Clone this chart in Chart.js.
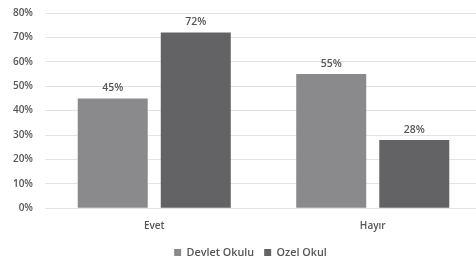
<!DOCTYPE html>
<html>
<head>
<meta charset="utf-8">
<script src="https://cdn.jsdelivr.net/npm/chart.js@4"></script>
<style>
  html, body { margin: 0; padding: 0; background: #fff; }
  /* Excel grafiği sağda biraz kırpılmış, o yüzden tuval pencereden geniş */
  #wrap { width: 476px; height: 264px; overflow: hidden; }
  #inner { width: 500px; height: 268px; }
</style>
</head>
<body>
<div id="wrap"><div id="inner"><canvas id="okulChart"></canvas></div></div>
<script>
// veriler
const categories = ['Evet', 'Hayır'];
const devletOkulu = [45, 55];
const ozelOkul = [72, 28];
const seriesNames = ['Devlet Okulu', 'Ozel Okul'];

const textColor = '#555555';
const fontFamily = '"Open Sans", sans-serif';

// çubukların üstüne yüzde yazan basit eklenti
const valueLabels = {
    id: 'valueLabels',
    afterDatasetsDraw(chart) {
        const c = chart.ctx;
        c.save();
        c.font = '600 10.5px ' + fontFamily;
        c.fillStyle = textColor;
        c.textAlign = 'center';
        c.textBaseline = 'bottom';
        chart.data.datasets.forEach((ds, i) => {
            chart.getDatasetMeta(i).data.forEach((bar, j) => {
                c.fillText(ds.data[j] + '%', bar.x, bar.y - 5);
            });
        });
        c.restore();
    }
};

// lejant orijinalde biraz sağda duruyor
const legendShift = {
    id: 'legendShift',
    afterLayout(chart) {
        chart.legend.left += 8;
        chart.legend.right += 8;
    }
};

new Chart(document.getElementById('okulChart'), {
    type: 'bar',
    data: {
        labels: categories,
        datasets: [{
            label: seriesNames[0],
            data: devletOkulu,
            backgroundColor: '#8a8a8c',
            barPercentage: 0.843,
            categoryPercentage: 0.76
        }, {
            label: seriesNames[1],
            data: ozelOkul,
            backgroundColor: '#636365',
            barPercentage: 0.843,
            categoryPercentage: 0.76
        }]
    },
    options: {
        responsive: true,
        maintainAspectRatio: false,
        animation: false,
        layout: { padding: { top: 13, right: 18, left: 3, bottom: 0 } },
        plugins: {
            legend: {
                position: 'bottom',
                labels: {
                    boxWidth: 7,
                    boxHeight: 7,
                    padding: 10,
                    color: textColor,
                    font: { family: 'Open Sans', size: 10.8, weight: '600' }
                }
            },
            tooltip: { enabled: false }
        },
        scales: {
            x: {
                grid: { display: false },
                border: { display: false },
                afterFit: s => {
                    s.height += 1;
                    s.paddingLeft = 0;
                    s.paddingRight = 0;
                },
                ticks: {
                    color: textColor,
                    padding: 4,
                    font: { family: 'Open Sans', size: 10, weight: '600' }
                }
            },
            y: {
                min: 0,
                max: 80,
                grid: { color: '#e3e3e3', drawTicks: false },
                border: { display: false },
                afterFit: s => {
                    s.width = 42;
                    s.paddingTop = 0;
                    s.paddingBottom = 0;
                },
                ticks: {
                    stepSize: 10,
                    color: textColor,
                    padding: 12,
                    font: { family: 'Open Sans', size: 10, weight: '600' },
                    callback: v => v + '%'
                }
            }
        }
    },
    plugins: [valueLabels, legendShift]
});
</script>
</body>
</html>
